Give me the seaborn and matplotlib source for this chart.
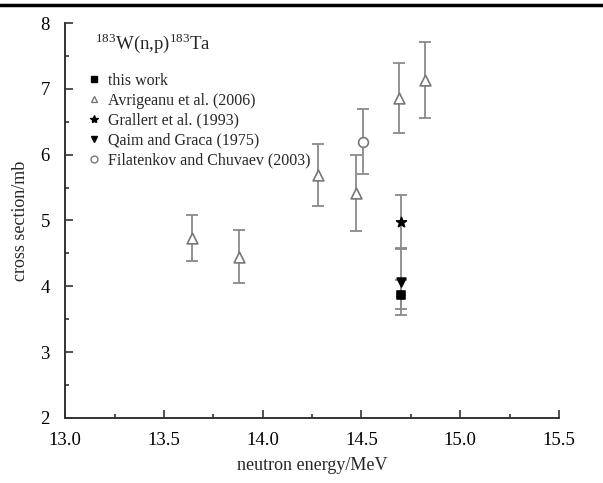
import numpy as np
import matplotlib
matplotlib.use("Agg")
import matplotlib.pyplot as plt
import seaborn as sns
from matplotlib.lines import Line2D

# data (energy in MeV, cross section in mb)
this_work_x = [14.70]
this_work_y = [3.87]
this_work_err = [0.22]

avrigeanu_x = [13.64, 13.88, 14.28, 14.47, 14.69, 14.82]
avrigeanu_y = [4.73, 4.45, 5.69, 5.42, 6.86, 7.14]
avrigeanu_err = [0.35, 0.40, 0.47, 0.58, 0.53, 0.58]

grallert_x = [14.70]
grallert_y = [4.98]
grallert_err = [0.40]

qaim_x = [14.70]
qaim_y = [4.07]
qaim_err = [0.50]

filatenkov_x = [14.51]
filatenkov_y = [6.20]
filatenkov_err = [0.49]

x_ticks = [13.0, 13.5, 14.0, 14.5, 15.0, 15.5]
y_ticks = [2, 3, 4, 5, 6, 7, 8]

sns.set_theme(style="ticks")
plt.rcParams["font.family"] = ["Liberation Serif", "DejaVu Serif"]
plt.rcParams["mathtext.fontset"] = "custom"
plt.rcParams["mathtext.rm"] = "Liberation Serif"

fig = plt.figure(figsize=(6.03, 4.83), dpi=100)
ax = fig.add_axes([0.108, 0.135, 0.819, 0.817])

gray = "#8a8a8a"
series = [
    ("this work", this_work_x, this_work_y, this_work_err, "s", "black", "black", 30),
    ("Avrigeanu et al. (2006)", avrigeanu_x, avrigeanu_y, avrigeanu_err, "^", "white", "#777777", 60),
    ("Grallert et al. (1993)", grallert_x, grallert_y, grallert_err, "*", "black", "black", 55),
    ("Qaim and Graca (1975)", qaim_x, qaim_y, qaim_err, "v", "black", "black", 40),
    ("Filatenkov and Chuvaev (2003)", filatenkov_x, filatenkov_y, filatenkov_err, "o", "white", "#777777", 50),
]

handles = []
for label, xs, ys, errs, marker, face, edge, size in series:
    ax.errorbar(xs, ys, yerr=errs, fmt="none", ecolor=gray, elinewidth=1.3,
                capsize=4, capthick=1.3, zorder=2)
    sns.scatterplot(x=xs, y=ys, marker=marker, s=size, color=face,
                    edgecolor=edge, linewidth=1.2, zorder=3, ax=ax, legend=False)
    handles.append(Line2D([], [], linestyle="none", marker=marker,
                          markerfacecolor=face, markeredgecolor=edge,
                          markeredgewidth=1.0, markersize=5 if marker != "*" else 6,
                          label=label))

ax.set_xlim(13.0, 15.5)
ax.set_ylim(2, 8)
ax.set_xticks(x_ticks)
ax.set_xticklabels([f"{t:.1f}" for t in x_ticks])
ax.set_yticks(y_ticks)
ax.set_xticks(np.arange(13.25, 15.5, 0.5), minor=True)
ax.set_yticks(np.arange(2.5, 8, 1.0), minor=True)
ax.tick_params(which="both", direction="in", colors="#333333", labelcolor="black",
               labelsize=13.5, width=1.2)
ax.tick_params(which="major", length=6)
ax.tick_params(which="minor", length=3)
ax.tick_params(axis="x", which="major", pad=10)
ax.tick_params(axis="y", which="major", pad=11)
sns.despine(ax=ax)
for s in ["left", "bottom"]:
    ax.spines[s].set_linewidth(1.4)
    ax.spines[s].set_color("#333333")

ax.set_xlabel("neutron energy/MeV", fontsize=13, labelpad=6)
ax.set_ylabel("cross section/mb", fontsize=13, labelpad=8)

ax.text(0.06, 0.95, r"$^{183}$W(n,p)$^{183}$Ta", transform=ax.transAxes,
        fontsize=13.5, va="center", ha="left")

ax.legend(handles=handles, loc="upper left", bbox_to_anchor=(0.045, 0.875),
          frameon=False, fontsize=11.5, handlelength=0.8, handletextpad=0.5,
          labelspacing=0.25, borderpad=0, borderaxespad=0)

# heavy rule across the top of the page
fig.add_artist(Line2D([0, 1], [0.99, 0.99], transform=fig.transFigure,
                      color="black", linewidth=2.5))

fig.savefig("out.png", dpi=100)
